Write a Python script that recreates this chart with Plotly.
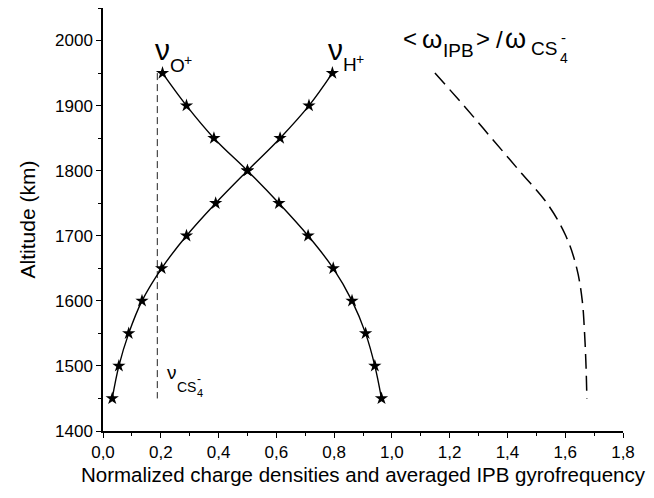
import plotly.graph_objects as go

altitude = [1450, 1500, 1550, 1600, 1650, 1700, 1750, 1800, 1850, 1900, 1950]
nu_H = [0.032, 0.055, 0.089, 0.135, 0.203, 0.289, 0.390, 0.500, 0.613, 0.713, 0.794]
nu_O = [0.964, 0.941, 0.909, 0.862, 0.797, 0.710, 0.609, 0.500, 0.384, 0.289, 0.206]
nu_CS4 = [0.188, 0.188, 0.188, 0.188, 0.188, 0.188, 0.188, 0.188, 0.188, 0.188, 0.188]
omega_ratio = [1.675, 1.672, 1.667, 1.659, 1.640, 1.602, 1.537, 1.441, 1.345, 1.249, 1.149]

x_ticks = [0.0, 0.2, 0.4, 0.6, 0.8, 1.0, 1.2, 1.4, 1.6, 1.8]
y_ticks = [1400, 1500, 1600, 1700, 1800, 1900, 2000]

FONT = "Liberation Sans, Arial, sans-serif"
# page body has an 8px margin, so the figure is placed at (8, 8)
W, H = 646, 490
ML, MR, MT, MB = 95, 31, 0, 67
# plot area in window pixels (for placing text labels)
PX0, PX1, PY0, PY1 = 103.3, 623.0, 8.3, 431.0

fig = go.Figure()
fig.add_trace(go.Scatter(x=nu_CS4[::-1], y=altitude[::-1], mode="lines",
                         line=dict(color="#222", width=1, dash="7px,4px"),
                         showlegend=False))
fig.add_trace(go.Scatter(x=omega_ratio[::-1], y=altitude[::-1], mode="lines",
                         line=dict(color="black", width=1.5, dash="15px,7px", shape="spline"),
                         showlegend=False))
for vals in (nu_H, nu_O):
    fig.add_trace(go.Scatter(x=vals, y=altitude, mode="lines+markers",
                             line=dict(color="black", width=1.4, shape="spline", smoothing=1),
                             marker=dict(symbol="star", size=10, color="black"),
                             showlegend=False))

def label(text, xp, yp, size):
    x = (xp - PX0) / (PX1 - PX0)
    y = (PY1 - yp) / (PY1 - PY0)
    fig.add_annotation(x=x, y=y, xref="paper", yref="paper", text=text,
                       showarrow=False, xanchor="left", yanchor="middle",
                       font=dict(family=FONT, size=size, color="black"))

# nu O+
label("ν", 153, 50, 30)
label("O", 168, 66, 19)
label("+", 182, 60, 14)
# nu H+
label("ν", 326, 50, 30)
label("H", 341, 65, 19)
label("+", 354, 59, 14)
# <omega_IPB> / omega_CS4-
label("<", 401, 39, 24)
label("ω", 420, 39, 26)
label("IPB", 441, 51, 19)
label(">", 474, 39, 24)
label("/", 494, 40, 24)
label("ω", 503, 39, 27)
label("CS", 529, 49, 19)
label("-", 559, 38, 15)
label("4", 558, 58, 14)
# nu CS4-
label("ν", 165, 373, 19)
label("CS", 175, 387, 14)
label("-", 195, 379, 12)
label("4", 195, 393, 11)

fig.update_layout(
    width=W, height=H,
    margin=dict(l=ML, r=MR, t=MT, b=MB, autoexpand=False),
    paper_bgcolor="white", plot_bgcolor="white",
    separators=",.",
    font=dict(family=FONT, color="black", size=17),
    xaxis=dict(range=[0, 1.8], tickvals=x_ticks, tickformat=".1f",
               ticks="outside", ticklen=5, tickwidth=1, tickcolor="black",
               minor=dict(dtick=0.1, ticks="outside", ticklen=3, tickcolor="black"),
               showline=True, linecolor="black", linewidth=1.5, showgrid=False,
               zeroline=False, tickfont=dict(size=17), automargin=False,
               title=dict(text="Normalized charge densities and averaged IPB gyrofrequency",
                          font=dict(size=20.5), standoff=6)),
    yaxis=dict(range=[1400, 2050], tickvals=y_ticks,
               ticks="outside", ticklen=5, tickwidth=1, tickcolor="black",
               minor=dict(dtick=50, ticks="outside", ticklen=3, tickcolor="black"),
               showline=True, linecolor="black", linewidth=1.5, showgrid=False,
               zeroline=False, tickfont=dict(size=17), automargin=False,
               title=dict(text="Altitude (km)", font=dict(size=21), standoff=14)),
)

fig.write_html("out.html")
